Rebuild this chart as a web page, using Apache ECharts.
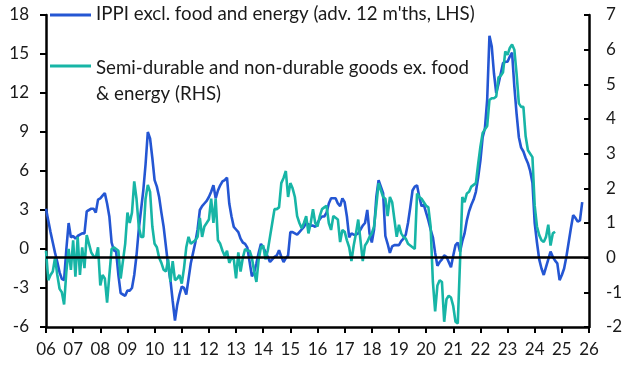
<!DOCTYPE html>
<html><head><meta charset="utf-8">
<script src="https://cdn.jsdelivr.net/npm/echarts@6/dist/echarts.min.js"></script>
<style>html,body{margin:0;padding:0;background:#fff}#c{width:636px;height:369px}</style>
</head><body><div id="c"></div>
<script>
// Monthly data starting Jan 2006
const yearLabels = ['06','07','08','09','10','11','12','13','14','15','16','17','18','19','20','21','22','23','24','25','26'];
const leftTicks = { min: -6, max: 18, interval: 3 };
const rightTicks = { min: -2, max: 7, interval: 1 };
const seriesNames = ["IPPI excl. food and energy (adv. 12 m'ths, LHS)", "Semi-durable and non-durable goods ex. food\n& energy (RHS)"];

// IPPI excl. food and energy, advanced 12 months (LHS, %)
const ippiCore = [
 3.1, 2.2, 1.3, 0.5, -0.3, -1.0, -1.8, -2.3, -2.4, 0.0, 2.0, 0.9,
 1.0, 0.8, 1.0, 1.1, 1.2, 1.2, 2.9, 3.0, 3.1, 3.1, 2.8, 3.8,
 3.9, 4.1, 4.3, 3.5, 2.5, 0.5, -0.1, -0.2, -2.0, -3.4, -3.5, -3.6,
 -3.2, -3.2, -3.0, -2.0, -0.5, 1.5, 3.0, 4.5, 6.5, 9.0, 8.5, 7.0,
 5.3, 4.8, 4.0, 2.8, 1.7, 0.2, -1.3, -2.4, -4.0, -5.5, -4.3, -3.5,
 -2.9, -3.0, -3.5, -2.3, -1.1, -0.3, 0.5, 1.5, 3.0, 3.3, 3.5, 3.7,
 4.0, 4.4, 4.9, 3.9, 4.5, 4.9, 5.2, 5.3, 5.5, 3.5, 2.5, 1.7,
 1.5, 1.3, 0.8, 0.5, 0.4, 0.1, -1.0, -2.1, -1.8, -1.1, -0.3, 0.4,
 0.1, -0.2, -0.6, -1.0, -0.8, -0.6, -0.5, -0.1, -0.6, -1.0, -0.7, -0.5,
 1.3, 1.3, 1.2, 1.1, 1.3, 1.5, 1.7, 2.0, 1.9, 1.8, 1.8, 1.7,
 2.0, 2.3, 2.5, 2.5, 2.8, 3.5, 3.9, 3.9, 3.9, 3.5, 3.3, 3.9,
 3.6, 2.5, 0.9, 1.2, 1.1, 1.1, 1.2, 1.5, 1.8, 2.0, 3.0, 1.2,
 0.5, 1.5, 4.0, 5.3, 4.8, 4.3, 1.0, 0.4, -0.3, 0.2, 0.3, 0.3,
 0.3, 0.6, 0.8, 1.1, 2.0, 3.2, 4.5, 4.8, 4.9, 4.0, 3.3, 3.4,
 2.8, 2.2, 1.5, 0.9, -0.3, -1.3, -1.0, -0.8, -0.5, -0.6, -1.0, -1.4,
 -0.5, 0.3, 0.5, -0.2, 0.6, 1.2, 2.2, 2.9, 3.4, 3.8, 4.4, 5.5,
 6.8, 8.6, 9.3, 11.5, 16.4, 15.6, 13.5, 12.0, 12.7, 13.5, 14.3, 14.4,
 14.4, 14.8, 15.1, 12.5, 10.4, 8.6, 7.8, 7.5, 7.0, 6.6, 6.0, 5.1,
 2.0, 0.5, -0.8, -1.5, -2.0, -1.4, -0.8, -0.2, -0.6, -0.9, -1.1, -2.4,
 -2.0, -1.5, -0.6, 0.5, 1.6, 2.6, 2.4, 2.1, 2.2, 3.6
];

// Semi-durable and non-durable goods ex. food & energy (RHS, %)
const semiDurable = [
 0.2, -0.65, -0.5, -0.4, 0.0, -0.5, -0.9, -1.0, -1.35, -0.4, 0.25, -0.35,
 0.5, -0.55, 0.6, -0.5, 0.3, -0.3, 0.65, 0.4, 0.15, 0.05, 0.0, 0.3,
 -0.8, -0.5, -0.6, -1.3, -0.5, 0.25, 0.3, 0.25, 0.2, -0.6, -0.1, 0.4,
 1.3, 1.0, 1.3, 2.2, 1.7, 0.9, 0.6, 0.6, 1.7, 2.1, 1.9, 0.9,
 0.4, 0.3, 0.0, -0.15, -0.35, -0.4, -0.05, -0.7, -0.1, -0.65, -0.6, -0.5,
 -0.75, -0.3, 0.3, 0.6, 0.4, 0.45, 0.5, 0.6, 1.15, 0.6, 0.9, 1.0,
 1.1, 1.7, 1.0, 1.7, 0.5, 0.4, 0.2, 0.05, 0.2, -0.15, 0.0, -0.05,
 -0.6, 0.15, -0.4, 0.0, 0.25, 0.2, 0.2, 0.0, -0.4, -0.7, -0.05, 0.3,
 0.35, -0.05, 0.2, 0.6, 1.0, 1.4, 1.4, 1.45, 2.15, 2.3, 2.5, 1.75,
 2.15, 2.0, 1.75, 1.2, 1.0, 0.85, 1.0, 1.2, 0.7, 1.0, 1.4, 1.0,
 0.9, 1.2, 1.4, 1.45, 1.5, 1.0, 0.8, 1.2, 1.15, 1.1, 0.45, 0.8,
 0.75, 0.5, 0.3, -0.1, 0.35, 0.7, 1.1, 0.5, -0.1, 0.35, 0.45, 0.6,
 0.7, 0.9, 1.5, 2.15, 1.95, 1.75, 1.7, 1.2, 1.75, 1.6, 1.1, 0.6,
 0.95, 0.7, 0.6, 0.55, 0.4, 0.35, 0.3, 0.25, 1.85, 1.75, 1.7, 1.6,
 1.5, 1.45, 0.9, -0.7, -1.55, -0.8, -0.65, -0.7, -1.85, -1.2, -1.1, -1.15,
 -1.4, -1.85, -1.9, -0.1, 1.75, 1.6, 1.85, 1.9, 2.05, 2.1, 2.15, 2.7,
 3.2, 3.6, 3.7, 3.8, 4.55, 4.6, 4.6, 4.65, 5.2, 5.25, 5.35, 5.95,
 5.85, 6.05, 6.15, 6.0, 5.3, 4.45, 4.35, 4.35, 3.5, 3.1, 3.0, 2.9,
 1.5, 0.9, 0.65, 0.5, 0.45, 0.6, 0.95, 0.35, 0.7, 0.75
];

const BLUE = '#2456d3';
const TEAL = '#17b5a6';
const FONT = 'Lato';
const TXT = '#1a1a1a';

const chart = echarts.init(document.getElementById('c'), null, { renderer: 'canvas' });
chart.setOption({
  animation: false,
  backgroundColor: '#fff',
  textStyle: { fontFamily: FONT },
  grid: { left: 46, right: 47, top: 15, bottom: 42 },
  xAxis: {
    type: 'value', min: 0, max: (yearLabels.length - 1) * 12, interval: 12,
    splitLine: { show: false },
    axisLine: { onZero: false, lineStyle: { color: '#000', width: 2.5 } },
    axisTick: { show: true, length: 6, lineStyle: { color: '#000', width: 2 } },
    axisLabel: { color: TXT, fontSize: 17, fontFamily: FONT, margin: 14,
      formatter: v => yearLabels[Math.round(v / 12)] }
  },
  yAxis: [
    { type: 'value', min: leftTicks.min, max: leftTicks.max, interval: leftTicks.interval,
      splitLine: { show: false },
      axisLine: { show: true, onZero: false, lineStyle: { color: '#000', width: 2.5 } },
      axisTick: { show: true, length: 6, lineStyle: { color: '#000', width: 2 } },
      axisLabel: { color: TXT, fontSize: 17, fontFamily: FONT, margin: 17 } },
    { type: 'value', min: rightTicks.min, max: rightTicks.max, interval: rightTicks.interval,
      position: 'right',
      splitLine: { show: false },
      axisLine: { show: true, onZero: false, lineStyle: { color: '#000', width: 2.5 } },
      axisTick: { show: true, inside: true, length: 5, lineStyle: { color: '#000', width: 2 } },
      axisLabel: { color: TXT, fontSize: 17, fontFamily: FONT, margin: 17 } }
  ],
  series: [
    { name: seriesNames[0], type: 'line', yAxisIndex: 0, showSymbol: false, symbol: 'none',
      lineStyle: { color: BLUE, width: 2.6 }, itemStyle: { color: BLUE }, z: 2,
      data: ippiCore.map((v, i) => [i, v]) },
    { name: seriesNames[1], type: 'line', yAxisIndex: 1, showSymbol: false, symbol: 'none',
      lineStyle: { color: TEAL, width: 2.6 }, itemStyle: { color: TEAL }, z: 3,
      data: semiDurable.map((v, i) => [i, v]),
      markLine: { silent: true, symbol: 'none', label: { show: false },
        lineStyle: { color: '#000', width: 2.5, type: 'solid' },
        data: [{ yAxis: 0 }] } }
  ],
  graphic: [
    { type: 'line', shape: { x1: 50, y1: 15, x2: 91, y2: 15 }, style: { stroke: BLUE, lineWidth: 3 } },
    { type: 'text', left: 96, top: 4, style: { text: seriesNames[0], fill: TXT, font: '18.7px ' + FONT } },
    { type: 'line', shape: { x1: 50, y1: 66, x2: 91, y2: 66 }, style: { stroke: TEAL, lineWidth: 3 } },
    { type: 'text', left: 96, top: 55, style: { text: seriesNames[1], fill: TXT, font: '18.7px ' + FONT, lineHeight: 26 } }
  ]
});
</script>
</body></html>
